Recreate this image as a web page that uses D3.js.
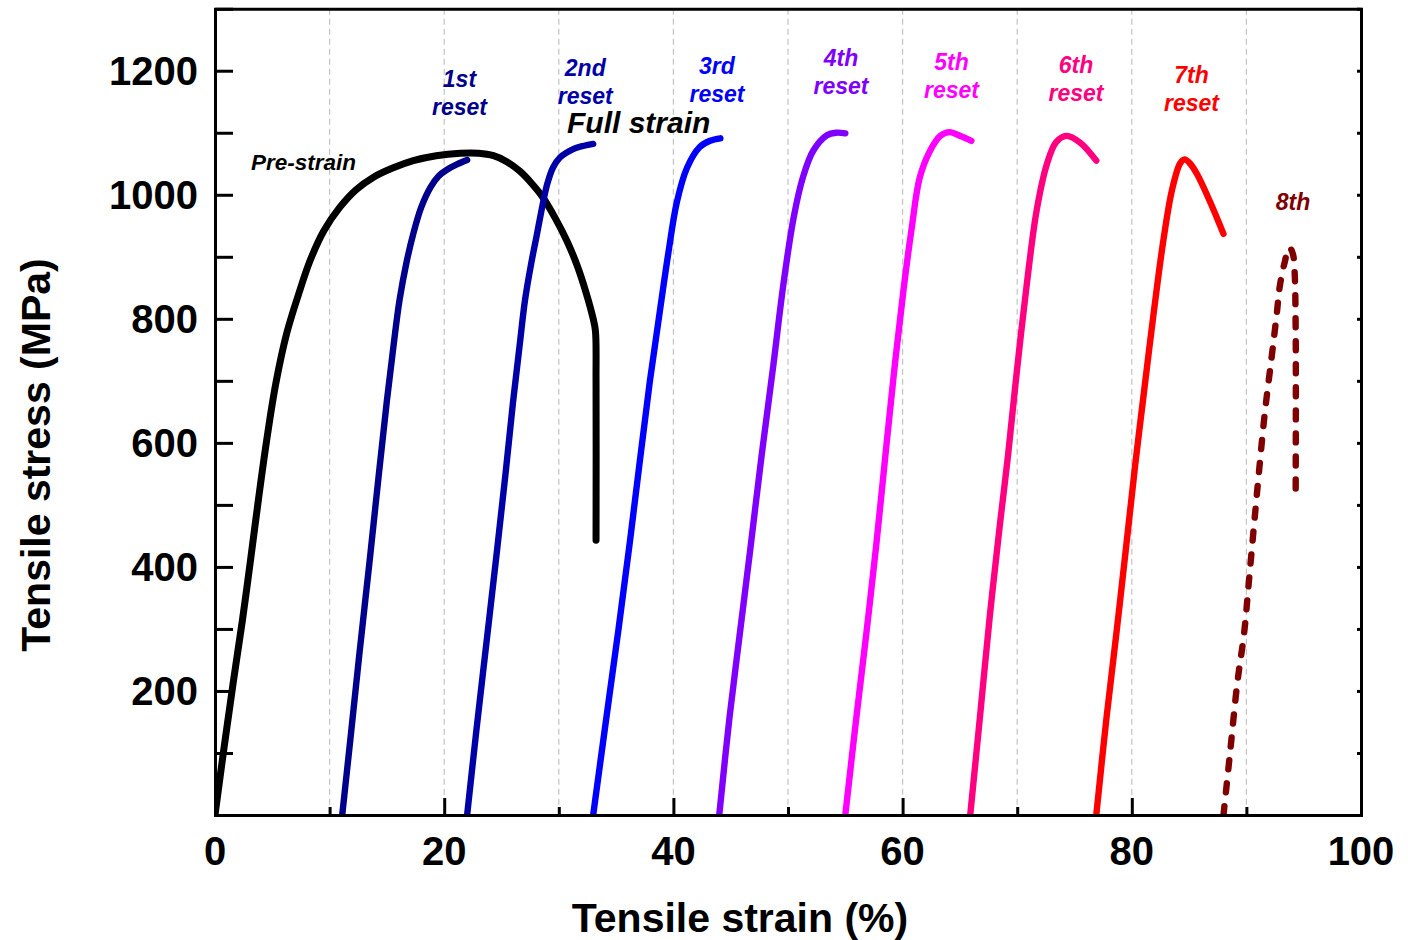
<!DOCTYPE html>
<html>
<head>
<meta charset="utf-8">
<script src="https://cdn.jsdelivr.net/npm/d3@7"></script>
<style>
  html, body { margin: 0; padding: 0; background: #fff; }
  svg { display: block; }
  text { font-family: "Liberation Sans", Arial, Helvetica, sans-serif; }
</style>
</head>
<body>
<svg id="chart" width="1408" height="940"></svg>
<script>
// Strain (%) / stress (MPa) readings for each tensile run
const preStrain = [[0,0],[0.8,110],[1.6,215],[2.4,315],[3.1,411],[3.8,510],[4.5,603],[5.3,695],[6.25,776],[7.3,840],[8.3,894],[9.5,942],[10.9,980],[12.3,1008],[13.8,1028],[15.5,1043],[17.3,1055],[19.3,1063],[21.4,1067],[23.0,1067],[24.3,1063],[25.5,1053],[26.6,1038],[27.6,1019],[28.6,996],[29.7,962],[30.7,926],[31.6,886],[32.4,841],[33.0,800],[33.2,780],[33.25,700],[33.25,443]];
const reset1 = [[11.1,0],[11.8,120],[12.6,260],[13.5,411],[14.3,550],[15.0,668],[15.6,760],[16.1,830],[16.7,890],[17.3,937],[18.0,980],[18.8,1012],[19.5,1030],[20.2,1040],[21.1,1049],[22.0,1056]];
const reset2 = [[22.0,0],[22.8,135],[23.7,280],[24.6,425],[25.35,550],[26.0,665],[26.6,760],[27.05,830],[27.6,890],[28.1,937],[28.6,985],[29.0,1018],[29.5,1044],[30.1,1060],[31.3,1074],[32.2,1079],[33.0,1082]];
const reset3 = [[33.0,0],[34.1,150],[35.2,298],[36.2,440],[37.1,575],[37.95,700],[38.8,810],[39.55,905],[40.3,988],[41.2,1044],[42.3,1077],[43.2,1087],[44.1,1091]];
const reset4 = [[44.0,0],[44.9,158],[45.8,293],[46.7,427],[47.7,580],[48.7,722],[49.6,856],[50.5,964],[51.3,1028],[52.2,1071],[53.4,1096],[54.2,1100],[55.0,1099]];
const reset5 = [[55.0,0],[55.95,155],[56.85,295],[57.7,435],[58.5,580],[59.3,722],[60.1,850],[60.8,947],[61.5,1028],[62.4,1071],[63.3,1095],[64.1,1101],[65.0,1095],[66.0,1087]];
const reset6 = [[65.9,0],[66.75,158],[67.6,319],[68.5,470],[69.2,580],[69.95,712],[70.8,850],[71.7,975],[72.6,1050],[73.4,1085],[74.3,1095],[75.5,1084],[76.9,1055]];
const reset7 = [[76.9,0],[77.8,158],[78.7,300],[79.55,440],[80.3,565],[81.05,680],[81.9,808],[82.75,926],[83.5,1007],[84.2,1050],[84.6,1057],[85.1,1050],[85.7,1033],[86.8,990],[88.0,937]];
const reset8 = [[88.0,0],[88.6,105],[89.2,212],[89.8,293],[90.2,373],[90.6,454],[91.0,534],[91.6,647],[92.2,738],[92.65,808],[92.9,851],[93.3,888],[93.75,915],[94.05,905],[94.2,878],[94.3,781],[94.3,525]];

const seriesData = [preStrain, reset1, reset2, reset3, reset4, reset5, reset6, reset7, reset8];
const seriesColors = ["#000000","#00008c","#0000a8","#0000ff","#8000ff","#ff00ff","#ff0080","#ff0000","#800000"];

// Curve annotations: text lines and anchor (strain %, stress MPa)
const labelLines = [["1st","reset"],["2nd","reset"],["3rd","reset"],["4th","reset"],["5th","reset"],["6th","reset"],["7th","reset"],["8th"]];
const labelAnchors = [[21.33,1174],[32.31,1192],[43.8,1194],[54.62,1208],[64.27,1201],[75.13,1196],[85.21,1181],[94.07,975]];

const xTicks = [0,20,40,60,80,100];
const xMinor = [10,30,50,70,90];
const yTicks = [200,400,600,800,1000,1200];
const yAllTicks = [100,200,300,400,500,600,700,800,900,1000,1100,1200];
const gridX = [10,20,30,40,50,60,70,80,90];

const svg = d3.select("#chart");
const plotLeft = 215, plotRight = 1361, plotTop = 8.7, plotBottom = 815;

const x = d3.scaleLinear().domain([0,100]).range([plotLeft,plotRight]);
const y = d3.scaleLinear().domain([0,1300]).range([plotBottom,plotTop]);

// dashed vertical guides
svg.append("g").selectAll("line").data(gridX).join("line")
  .attr("x1", d => x(d)).attr("x2", d => x(d))
  .attr("y1", plotTop).attr("y2", plotBottom)
  .attr("stroke", "#c4c4c4").attr("stroke-width", 1.2)
  .attr("stroke-dasharray", "6,4");

// curves
const line = d3.line().x(d => x(d[0])).y(d => y(d[1])).curve(d3.curveCatmullRom.alpha(0.5));
svg.append("clipPath").attr("id", "plotClip").append("rect")
  .attr("x", plotLeft).attr("y", plotTop)
  .attr("width", plotRight - plotLeft).attr("height", plotBottom - plotTop);

const curves = svg.append("g").attr("clip-path", "url(#plotClip)");
seriesData.forEach((s, i) => {
  curves.append("path")
    .attr("d", line(s))
    .attr("fill", "none")
    .attr("stroke", seriesColors[i])
    .attr("stroke-width", i === 0 ? 7 : 6.4)
    .attr("stroke-linecap", "round")
    .attr("stroke-linejoin", "round")
    .attr("stroke-dasharray", i === 8 ? "9,14" : null);
});

// axes: all ticks point into the plot
svg.append("g").attr("transform", `translate(0,${plotBottom})`)
  .call(d3.axisBottom(x).tickValues(xTicks).tickSize(-17).tickFormat(""));
svg.append("g").attr("transform", `translate(0,${plotBottom})`)
  .call(d3.axisBottom(x).tickValues(xMinor).tickSize(-8).tickFormat(""))
  .select(".domain").remove();
svg.append("g").attr("transform", `translate(${plotLeft},0)`)
  .call(d3.axisLeft(y).tickValues(yAllTicks).tickSize(-18).tickFormat(""));
svg.append("g").attr("transform", `translate(${plotRight},0)`)
  .call(d3.axisRight(y).tickValues(yAllTicks).tickSize(-4).tickFormat(""));
svg.append("g").attr("transform", `translate(0,${plotTop})`)
  .call(d3.axisTop(x).tickValues([]).tickSizeOuter(0).tickFormat(""));

svg.selectAll(".domain").attr("stroke", "#000").attr("stroke-width", 3);
svg.selectAll(".tick line").attr("stroke", "#000").attr("stroke-width", 3);

// tick labels
svg.append("g").selectAll("text").data(xTicks).join("text")
  .attr("x", d => x(d)).attr("y", 865)
  .attr("text-anchor", "middle")
  .attr("font-size", 40).attr("font-weight", "bold")
  .text(d => d);
svg.append("g").selectAll("text").data(yTicks).join("text")
  .attr("x", 198).attr("y", d => y(d) + 14.5)
  .attr("text-anchor", "end")
  .attr("font-size", 40).attr("font-weight", "bold")
  .text(d => d);

// axis titles
svg.append("text")
  .attr("x", 740).attr("y", 932)
  .attr("text-anchor", "middle")
  .attr("font-size", 41).attr("font-weight", "bold")
  .text("Tensile strain (%)");
svg.append("text")
  .attr("transform", "translate(50,455) rotate(-90)")
  .attr("text-anchor", "middle")
  .attr("font-size", 41).attr("font-weight", "bold")
  .text("Tensile stress (MPa)");

// annotations
svg.append("text")
  .attr("x", 251).attr("y", 170)
  .attr("font-size", 22.5).attr("font-weight", "bold").attr("font-style", "italic")
  .text("Pre-strain");
svg.append("text")
  .attr("x", 567).attr("y", 133)
  .attr("font-size", 30).attr("font-weight", "bold").attr("font-style", "italic")
  .text("Full strain");

labelLines.forEach((lines, i) => {
  const [sx, sy] = labelAnchors[i];
  const t = svg.append("text")
    .attr("x", x(sx)).attr("y", y(sy))
    .attr("text-anchor", "middle")
    .attr("font-size", 23).attr("font-weight", "bold").attr("font-style", "italic")
    .attr("fill", seriesColors[i + 1]);
  lines.forEach((ln, j) => {
    t.append("tspan").attr("x", x(sx)).attr("dy", j === 0 ? 0 : 28).text(ln);
  });
});
</script>
</body>
</html>
